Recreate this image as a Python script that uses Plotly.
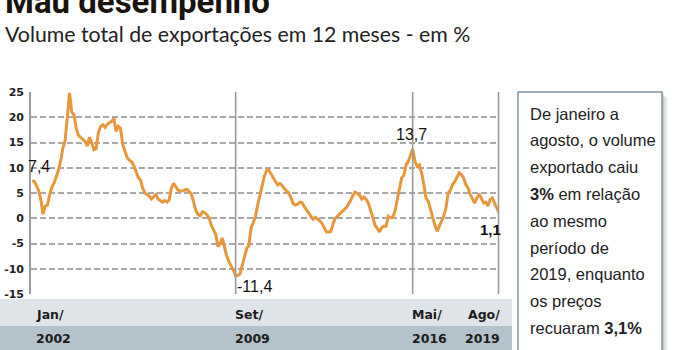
import pandas as pd
import plotly.graph_objects as go

# ---------------- data ----------------
months = pd.date_range("2002-01-01", periods=212, freq="MS")
volume = [
    7.4, 7.3, 6.5, 5.5, 3.8, 0.8, 2.4, 2.6, 4.7, 6.2,
    7.0, 8.3, 9.6, 11.5, 13.9, 15.3, 19.5, 24.8, 21.0, 20.5,
    17.8, 16.4, 16.0, 15.6, 15.2, 14.3, 16.0, 15.0, 13.6, 13.8,
    16.9, 18.2, 18.5, 18.0, 18.6, 18.9, 19.2, 19.8, 17.2, 18.2,
    17.8, 14.6, 13.2, 12.0, 11.5, 11.2, 10.4, 9.3, 8.1, 7.6,
    6.0, 5.0, 4.7, 4.4, 3.8, 4.3, 4.7, 3.8, 3.4, 3.2,
    3.5, 3.2, 3.6, 6.0, 6.9, 6.2, 5.6, 5.4, 5.4, 5.6,
    5.7, 5.3, 4.8, 3.2, 1.6, 0.7, 0.5, 1.3, 1.1, 0.7,
    0.1, -1.4, -2.3, -3.2, -5.6, -5.0, -3.9, -6.0, -7.5, -8.6,
    -9.4, -10.3, -11.4, -11.3, -11.0, -9.5, -7.5, -5.9,
    -5.5, -1.9, -0.9, 0.4, 2.6, 4.8, 6.5, 8.3, 9.5, 9.5,
    8.8, 7.9, 7.4, 6.6, 6.9, 6.5, 5.9, 5.4, 5.0, 4.1,
    2.9, 2.6, 2.8, 3.2, 3.1, 2.3, 1.7, 1.2, 0.4, -0.2,
    0.2, -0.1, -0.5, -1.0, -1.9, -2.7, -2.7, -2.6, -1.2, 0.0,
    0.4, 0.9, 1.2, 1.7, 2.1, 2.8, 3.6, 4.6, 5.2, 4.9,
    4.6, 3.8, 4.2, 3.8, 2.9, 1.6, -0.2, -1.4, -2.0, -2.7,
    -1.9, -1.6, -1.6, 0.4, 0.1, 0.2, 1.4, 3.7, 6.0, 8.0,
    8.5, 10.6, 11.2, 12.3, 13.7, 11.3, 10.3, 10.6, 9.0, 6.7,
    4.0, 3.4, 1.7, 0.1, -1.3, -2.6, -1.6, -0.3, 0.4, 2.0,
    5.0, 5.5, 6.7, 7.3, 8.3, 9.0, 8.6, 8.0, 6.7, 6.0,
    4.7, 3.7, 3.0, 4.0, 4.8, 4.0, 3.0, 3.2, 2.4, 3.7,
    4.0, 3.0, 2.0, 1.1,
]
y_ticks = [25, 20, 15, 10, 5, 0, -5, -10, -15]

period_dates = ["2002-01-01", "2009-09-01", "2016-05-01", "2019-08-01"]
period_month = ["Jan/", "Set/", "Mai/", "Ago/"]
period_year = ["2002", "2009", "2016", "2019"]
divider_dates = ["2009-09-01", "2016-05-01"]

label_dates = ["2002-01-01", "2009-09-01", "2016-05-01", "2019-08-01"]
label_texts = ["7,4", "-11,4", "13,7", "<b>1,1</b>"]

title = "Mau desempenho"
subtitle = "Volume total de exportações em 12 meses - em %"
box_lines = [
    "De janeiro a",
    "agosto, o volume",
    "exportado caiu",
    "<b>3%</b> em relação",
    "ao mesmo",
    "período de",
    "2019, enquanto",
    "os preços",
    "recuaram <b>3,1%</b>",
]

# ---------------- layout geometry (pixels) ----------------
W, H = 683, 350
L, R, T, B = 31, 499, 92, 294


def px(x):
    return (x - L) / (R - L)


def py(y):
    return (B - y) / (B - T)


ORANGE = "#e8973b"
GRID = "#a9a9a9"
AXIS = "#9a9a9a"
TXT = "#1c1c1c"

fig = go.Figure()
fig.add_trace(go.Scatter(
    x=months, y=volume, mode="lines",
    line=dict(color=ORANGE, width=3), hoverinfo="skip", showlegend=False,
))

shapes = []
# bottom band
shapes.append(dict(type="rect", xref="paper", yref="paper", x0=px(0), x1=px(512),
                   y0=py(326), y1=py(299), fillcolor="#dfe4e9", line_width=0, layer="below"))
shapes.append(dict(type="rect", xref="paper", yref="paper", x0=px(0), x1=px(512),
                   y0=py(352), y1=py(326), fillcolor="#b4c2cb", line_width=0, layer="below"))
# vertical dividers
for d in divider_dates:
    shapes.append(dict(type="line", xref="x", yref="paper", x0=d, x1=d, y0=0, y1=1,
                       line=dict(color=AXIS, width=1.6)))
# right border
shapes.append(dict(type="line", xref="paper", yref="paper", x0=px(498.5), x1=px(498.5),
                   y0=0, y1=1, line=dict(color=AXIS, width=1.6)))
# text box shadow + box
for off, op in [(6, 0.06), (4, 0.08), (2, 0.10)]:
    shapes.append(dict(type="rect", xref="paper", yref="paper",
                       x0=px(518 + off), x1=px(662 + off), y0=py(360), y1=py(92 + off),
                       fillcolor=f"rgba(0,0,0,{op})", line_width=0))
shapes.append(dict(type="rect", xref="paper", yref="paper", x0=px(518), x1=px(662),
                   y0=py(360), y1=py(92), fillcolor="white",
                   line=dict(color="#7f939e", width=1.5)))

ann = []
ann.append(dict(text=f"<b>{title}</b>", xref="paper", yref="paper", x=px(3), y=py(1),
                xanchor="left", yanchor="middle", showarrow=False,
                font=dict(family="Roboto", size=33, color="#1a1410", weight=900)))
ann.append(dict(text=subtitle, xref="paper", yref="paper", x=px(3), y=py(34),
                xanchor="left", yanchor="middle", showarrow=False,
                font=dict(family="Lato", size=21.3, color="#222222")))

# bottom period labels
for i, d in enumerate(period_dates):
    if i == len(period_dates) - 1:
        xa, xs = "right", 3
    elif i == 0:
        xa, xs = "left", 2
    else:
        xa, xs = "left", -3
    for txt, yy in [(period_month[i], 314), (period_year[i], 338)]:
        ann.append(dict(text=f"<b>{txt}</b>", xref="x", yref="paper", x=d, y=py(yy),
                        xanchor=xa, xshift=xs, yanchor="middle", showarrow=False,
                        font=dict(family="DejaVu Sans", size=12.5, color=TXT)))

# value labels
lab_y = [10.3, -13.6, 16.5, -2.3]
lab_anchor = [("left", -6), ("left", -1), ("center", -1), ("right", 4)]
for d, t, yv, (xa, xs) in zip(label_dates, label_texts, lab_y, lab_anchor):
    ann.append(dict(text=t, xref="x", yref="y", x=d, y=yv, xanchor=xa, xshift=xs,
                    yanchor="middle", showarrow=False,
                    font=dict(family="Liberation Sans", size=16 if "<b>" not in t else 15,
                              color="#111111")))

# box text
for i, line in enumerate(box_lines):
    ann.append(dict(text=line, xref="paper", yref="paper", x=px(528), y=py(113.5 + 26.8 * i),
                    xanchor="left", yanchor="middle", showarrow=False,
                    font=dict(family="Liberation Sans", size=16.5, color="#222222")))

fig.update_layout(
    width=W, height=H,
    margin=dict(l=L, r=W - R, t=T, b=H - B, autoexpand=False),
    paper_bgcolor="white", plot_bgcolor="white",
    shapes=shapes, annotations=ann, showlegend=False,
    xaxis=dict(type="date", range=["2001-12-18", "2019-08-01"], showgrid=False,
               showticklabels=False, ticks="", zeroline=False, showline=False,
               automargin=False),
    yaxis=dict(range=[-15, 25], tickvals=y_ticks, ticktext=[str(v) for v in y_ticks],
               showgrid=True, gridcolor=GRID, gridwidth=1.8, griddash="6px,3px",
               zeroline=False, showline=True, linecolor=AXIS, linewidth=1.6,
               ticks="", ticklabelstandoff=3, automargin=False,
               tickfont=dict(family="DejaVu Sans", size=11, color="#222222", weight="bold")),
)

fig.write_html("out.html")
